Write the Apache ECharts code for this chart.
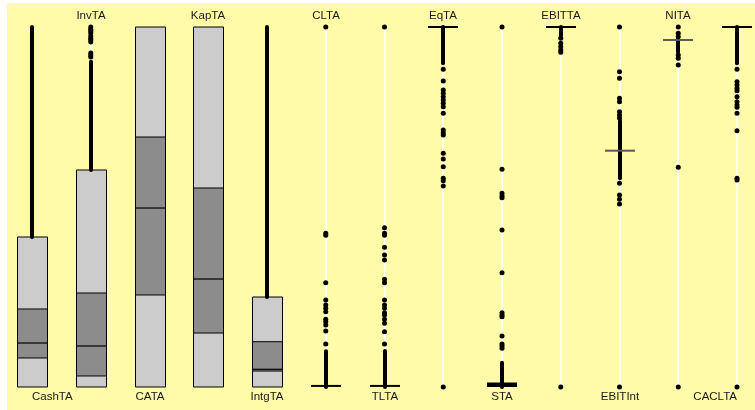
<!DOCTYPE html>
<html>
<head>
<meta charset="utf-8">
<script src="https://cdn.jsdelivr.net/npm/echarts@6/dist/echarts.min.js"></script>
<style>html,body{margin:0;padding:0;background:#fff}#c{width:755px;height:410px}</style>
</head>
<body>
<div id="c"></div>
<script>
// ---- data (values on a 0..1 scale) ----
const categories = ['CashTA','InvTA','CATA','KapTA','IntgTA','CLTA','TLTA','EqTA','STA','EBITTA','EBITInt','NITA','CACLTA'];

// boxes: lower/upper outer (light) box, quartile (dark) box, median
const boxLow  = [0,      0,      0,      0,      0,      null, null, null, 0,      null, null, null, null];
const boxQ1   = [0.0806, 0.0306, 0.2556, 0.15,   0.0444, null, null, null, 0,      null, null, null, null];
const boxMed  = [0.1222, 0.1139, 0.4972, 0.30,   0.0492, null, null, null, 0.005,  null, null, null, null];
const boxQ3   = [0.2167, 0.2611, 0.6944, 0.5528, 0.1258, null, null, null, 0.008,  null, null, null, null];
const boxHigh = [0.4167, 0.6028, 1,      1,      0.25,   null, null, null, 0.0125, null, null, null, null];

// collapsed boxes: only a median bar
const flatMedian = [null, null, null, null, null, 0.003, 0.003, 1, null, 1, 0.6564, 0.9639, 1];

// dense runs of outliers (drawn as a solid stroke)
const denseLow  = [0.4167, 0.6028, null, null, 0.25, 0,     0,   0.899, 0,      0.9758, 0.5797, 0.9306, 0.899];
const denseHigh = [1,      0.9036, null, null, 1,    0.099, 0.1, 1,     0.0675, 1,      0.7397, 0.9694, 1];

// single outliers
const outCashTA = [];
const outInvTA = [1.0, 0.994, 0.989, 0.983, 0.975, 0.969, 0.964, 0.958, 0.928, 0.922, 0.917];
const outCATA = [];
const outKapTA = [];
const outIntgTA = [];
const outCLTA = [1.0, 0.4269, 0.4214, 0.2897, 0.2417, 0.2278, 0.2186, 0.2092, 0.188, 0.1814, 0.1722, 0.1556, 0.1194];
const outTLTA = [1.0, 0.4425, 0.4269, 0.4214, 0.388, 0.3667, 0.3528, 0.2992, 0.2897, 0.2417, 0.2278, 0.2186, 0.2064, 0.2, 0.188, 0.1769, 0.1536, 0.1194];
const outEqTA = [0.8825, 0.85, 0.825, 0.8158, 0.8064, 0.7972, 0.7881, 0.7786, 0.7603, 0.7139, 0.7064, 0.7, 0.6492, 0.6333, 0.6119, 0.5797, 0.5731, 0.5583, 0];
const outSTA = [1.0, 0.6047, 0.538, 0.5306, 0.5258, 0.4361, 0.3175, 0.2064, 0.2, 0.1953, 0.1417, 0.1194, 0.1139, 0.1075];
const outEBITTA = [0.9686, 0.9547, 0.9453, 0.9361, 0.9297, 0];
const outEBITInt = [1.0, 0.8758, 0.8575, 0.8019, 0.7925, 0.7647, 0.7556, 0.7472, 0.5658, 0.5333, 0.5214, 0.5083, 0];
const outNITA = [1.0, 0.9825, 0.9731, 0.9222, 0.9131, 0.8944, 0.6103, 0];
const outCACLTA = [0.8825, 0.848, 0.8389, 0.8297, 0.823, 0.8064, 0.7925, 0.7833, 0.777, 0.7603, 0.712, 0.5797, 0.575, 0];

const outlierLists = [outCashTA, outInvTA, outCATA, outKapTA, outIntgTA, outCLTA, outTLTA, outEqTA, outSTA, outEBITTA, outEBITInt, outNITA, outCACLTA];

// ---- rendering ----
const grayMedianCats = new Set(['EBITInt', 'NITA']);
const outlierData = [];
outlierLists.forEach((list, i) => list.forEach(v => outlierData.push([i, v])));

const chart = echarts.init(document.getElementById('c'), null, {renderer: 'canvas'});
const HW = 15;
const n = categories.length;

function renderColumn(params, api) {
  const i = api.value(0);
  const x = Math.round(api.coord([i, 0])[0]);
  const yOf = v => api.coord([i, v])[1];
  const ch = [];
  ch.push({type: 'line', shape: {x1: x, y1: yOf(0), x2: x, y2: yOf(1)},
           style: {stroke: '#FFFFEC', lineWidth: 2}});
  if (boxLow[i] != null) {
    const yl = yOf(boxLow[i]), yh = yOf(boxHigh[i]);
    if (yl - yh < 6) {
      // very flat box: borders merge into a solid bar
      ch.push({type: 'rect', shape: {x: x - HW, y: yh, width: 2 * HW, height: yl - yh},
               style: {fill: '#000'}});
    } else {
      ch.push({type: 'rect', shape: {x: x - HW + 0.5, y: yh, width: 2 * HW, height: yl - yh},
               style: {fill: '#CCCCCC', stroke: '#000', lineWidth: 1}});
      const y1 = yOf(boxQ1[i]), y3 = yOf(boxQ3[i]);
      ch.push({type: 'rect', shape: {x: x - HW + 0.5, y: y3, width: 2 * HW, height: y1 - y3},
               style: {fill: '#8C8C8C', stroke: '#000', lineWidth: 1}});
      const ym = yOf(boxMed[i]);
      ch.push({type: 'line', shape: {x1: x - HW + 0.5, y1: ym, x2: x + HW + 0.5, y2: ym},
               style: {stroke: '#000', lineWidth: 1.2}});
    }
  }
  if (denseLow[i] != null) {
    ch.push({type: 'line', shape: {x1: x, y1: yOf(denseLow[i]), x2: x, y2: yOf(denseHigh[i])},
             style: {stroke: '#000', lineWidth: 4, lineCap: 'round'}});
  }
  if (flatMedian[i] != null) {
    const ym = yOf(flatMedian[i]);
    ch.push({type: 'line', shape: {x1: x - HW, y1: ym, x2: x + HW, y2: ym},
             style: {stroke: grayMedianCats.has(categories[i]) ? '#5a5a5a' : '#000', lineWidth: 2}});
  }
  const top = i % 2 === 1;
  ch.push({type: 'text', style: {
    text: categories[i], x: x, y: top ? yOf(1) - 11 : yOf(0) + 10,
    align: i === 0 ? 'left' : (i === n - 1 ? 'right' : 'center'),
    verticalAlign: 'middle', fontSize: 11.5,
    fontFamily: 'Liberation Sans, Arial, Helvetica, sans-serif', fill: '#1a1a1a'}});
  return {type: 'group', children: ch};
}

chart.setOption({
  animation: false,
  backgroundColor: '#ffffff',
  graphic: [{type: 'rect', left: 7, top: 3, z: -10,
             shape: {width: 748, height: 407}, style: {fill: '#FFFBA8'}}],
  grid: {left: 32, right: 18, top: 27, bottom: 23},
  xAxis: {type: 'value', min: 0, max: n - 1, show: false},
  yAxis: {type: 'value', min: 0, max: 1, show: false},
  series: [
    {type: 'custom', renderItem: renderColumn, clip: false,
     data: categories.map((c, i) => [i, 0]), silent: true, z: 2},
    {type: 'scatter', data: outlierData, symbol: 'circle', symbolSize: 5,
     itemStyle: {color: '#000', opacity: 1}, silent: true, z: 3}
  ]
});
</script>
</body>
</html>
